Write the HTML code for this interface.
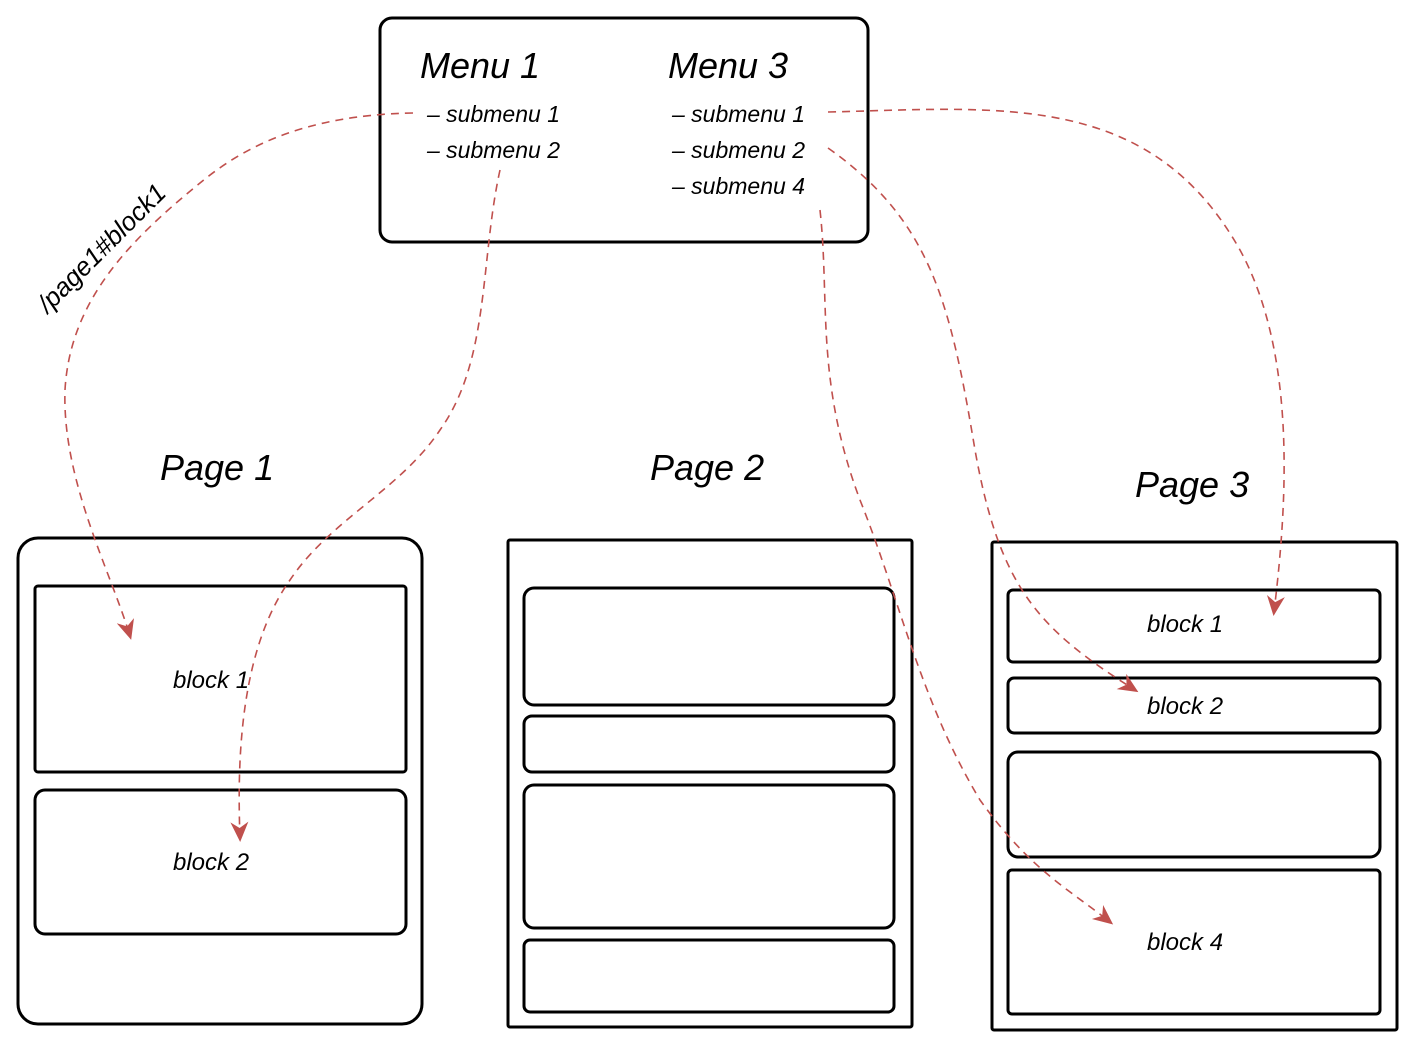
<!DOCTYPE html>
<html><head><meta charset="utf-8"><style>
html,body{margin:0;padding:0;background:#fff;}
svg{display:block}
text{font-family:"Liberation Sans",sans-serif;fill:#000;font-style:italic}
</style></head><body>
<svg width="1413" height="1046" viewBox="0 0 1413 1046" xmlns="http://www.w3.org/2000/svg">
<defs>
<marker id="ah" markerWidth="20" markerHeight="20" refX="16" refY="10" orient="auto" markerUnits="userSpaceOnUse">
<path d="M0,1 L20,10 L0,19 L6,10 Z" fill="#c0504d"/>
</marker>
</defs>
<g fill="none" stroke="#000" stroke-width="3" stroke-linejoin="round">
<rect x="380" y="18" width="488" height="224" rx="12"/>
<rect x="18" y="538" width="404" height="486" rx="20"/>
<rect x="35" y="586" width="371" height="186" rx="3"/>
<rect x="35" y="790" width="371" height="144" rx="10"/>
<rect x="508" y="540" width="404" height="487" rx="2"/>
<rect x="524" y="588" width="370" height="117" rx="10"/>
<rect x="524" y="716" width="370" height="56" rx="8"/>
<rect x="524" y="785" width="370" height="143" rx="10"/>
<rect x="524" y="940" width="370" height="72" rx="6"/>
<rect x="992" y="542" width="405" height="488" rx="2"/>
<rect x="1008" y="590" width="372" height="72" rx="5"/>
<rect x="1008" y="678" width="372" height="55" rx="6"/>
<rect x="1008" y="752" width="372" height="105" rx="10"/>
<rect x="1008" y="870" width="372" height="144" rx="4"/>
</g>
<text x="420" y="78" font-size="36">Menu 1</text>
<text x="668" y="78" font-size="36">Menu 3</text>
<g font-size="23">
<text x="427" y="122">– submenu 1</text>
<text x="427" y="158">– submenu 2</text>
<text x="672" y="122">– submenu 1</text>
<text x="672" y="158">– submenu 2</text>
<text x="672" y="194">– submenu 4</text>
</g>
<g font-size="36">
<text x="160" y="480">Page 1</text>
<text x="650" y="480">Page 2</text>
<text x="1135" y="497">Page 3</text>
</g>
<g font-size="24">
<text x="173" y="688">block 1</text>
<text x="173" y="870">block 2</text>
<text x="1147" y="632">block 1</text>
<text x="1147" y="714">block 2</text>
<text x="1147" y="950">block 4</text>
</g>
<text x="0" y="0" font-size="26" transform="translate(48,314) rotate(-45)">/page1#block1</text>
<g fill="none" stroke="#c0504d" stroke-width="1.6" stroke-dasharray="8,6" marker-end="url(#ah)">
<path d="M413,113 C300,115 240,150 200,183 C130,240 70,300 65,390 C62,480 110,570 130,636"/>
<path d="M500,170 C480,260 490,360 440,430 C400,490 330,520 290,580 C240,650 237,760 240,838"/>
<path d="M828,112 C1000,108 1150,90 1240,250 C1300,360 1285,520 1274,612"/>
<path d="M828,148 C930,220 950,300 975,450 C1000,590 1040,630 1135,690"/>
<path d="M820,210 C830,300 815,380 860,500 C900,600 920,700 980,800 C1030,870 1070,890 1110,922"/>
</g>
</svg>
</body></html>
